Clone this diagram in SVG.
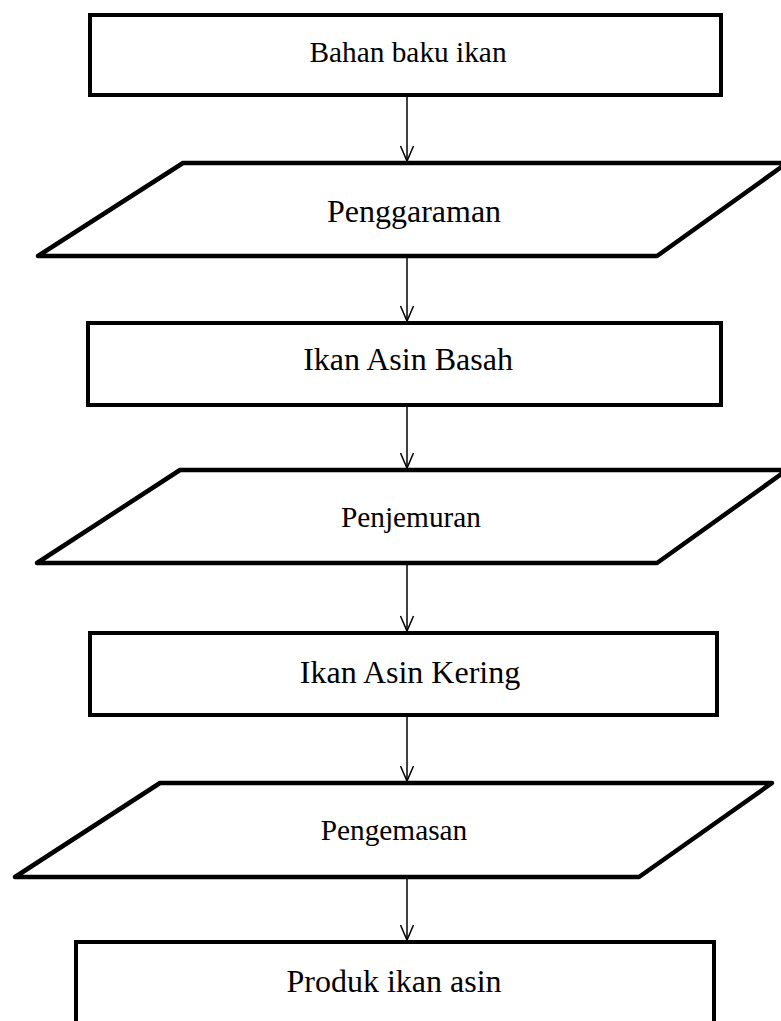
<svg xmlns="http://www.w3.org/2000/svg" width="781" height="1021" viewBox="0 0 781 1021">
<style>
  .box { fill: #fff; stroke: #000; stroke-width: 4; stroke-linejoin: miter; }
  .para { fill: #fff; stroke: #000; stroke-width: 4.5; stroke-linejoin: round; }
  .lbl { font-family: "Liberation Serif", "Times New Roman", serif; fill: #000; text-anchor: middle; }
  .s22 { font-size: 29.33px; }
  .s24 { font-size: 32px; }
  .conn { stroke: #000; stroke-width: 1.5; fill: none; marker-end: url(#arr); }
</style>
<defs>
  <marker id="arr" markerUnits="userSpaceOnUse" markerWidth="18" markerHeight="16" viewBox="0 0 18 16" refX="16" refY="8" orient="auto">
    <path d="M1 1.5 L16 8 L1 14.5" fill="none" stroke="#000" stroke-width="1.5"/>
  </marker>
</defs>
<rect width="781" height="1021" fill="#fff"/>
<g id="connectors">
  <line class="conn" x1="407" y1="97" x2="407" y2="161"/>
  <line class="conn" x1="407" y1="258" x2="407" y2="321"/>
  <line class="conn" x1="407" y1="407" x2="407" y2="468"/>
  <line class="conn" x1="407" y1="565" x2="407" y2="631"/>
  <line class="conn" x1="407" y1="717" x2="407" y2="781"/>
  <line class="conn" x1="407" y1="879" x2="407" y2="940"/>
</g>
<g id="n1">
  <rect class="box" x="90" y="15" width="631" height="80"/>
  <text class="lbl s22" x="408" y="62">Bahan baku ikan</text>
</g>
<g id="n2">
  <polygon class="para" points="38,256 183,163 787,163 657,256"/>
  <text class="lbl s24" x="414" y="222">Penggaraman</text>
</g>
<g id="n3">
  <rect class="box" x="88" y="323" width="633" height="82"/>
  <text class="lbl s24" x="408" y="370">Ikan Asin Basah</text>
</g>
<g id="n4">
  <polygon class="para" points="37,563 180,470 787,470 657,563"/>
  <text class="lbl s22" x="411" y="527">Penjemuran</text>
</g>
<g id="n5">
  <rect class="box" x="90" y="633" width="627" height="82"/>
  <text class="lbl s24" x="410" y="683">Ikan Asin Kering</text>
</g>
<g id="n6">
  <polygon class="para" points="15,877 160,783 772,783 639,877"/>
  <text class="lbl s22" x="394" y="840">Pengemasan</text>
</g>
<g id="n7">
  <rect class="box" x="76" y="942" width="638" height="100"/>
  <text class="lbl s24" x="394" y="992">Produk ikan asin</text>
</g>
</svg>
